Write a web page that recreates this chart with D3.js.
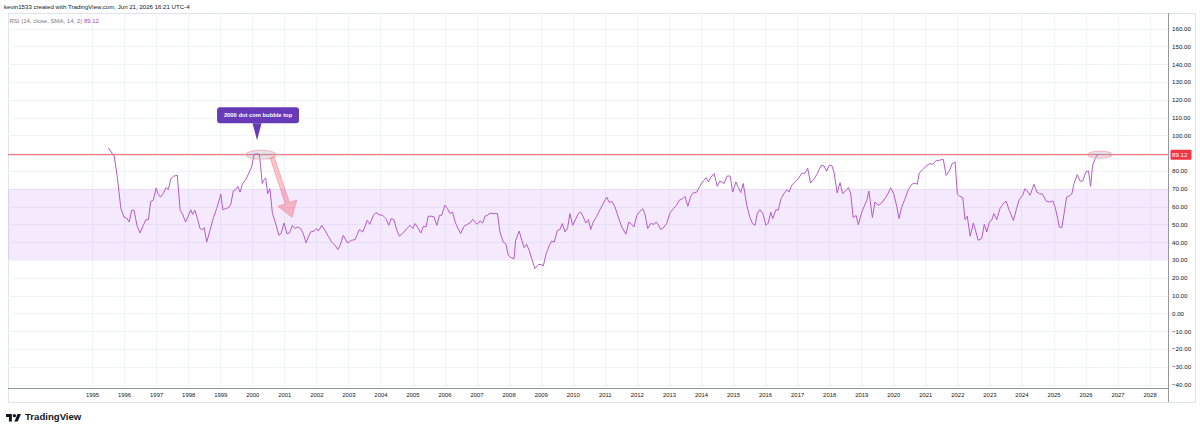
<!DOCTYPE html>
<html>
<head>
<meta charset="utf-8">
<script src="https://cdn.jsdelivr.net/npm/d3@7"></script>
<style>
	body { margin: 0; background: #fff; }
	svg { display: block; }
</style>
</head>
<body>
<script>

// monthly RSI(14) readings (decimal year, value)
const years = [
	1995.51, 1995.65, 1995.69, 1995.79, 1995.90,
	1996.00, 1996.08, 1996.16, 1996.24, 1996.31, 1996.41, 1996.50, 1996.60, 1996.68, 1996.76, 1996.83, 1996.91,
	1997.00, 1997.07, 1997.14, 1997.22, 1997.31, 1997.38, 1997.46, 1997.54, 1997.66, 1997.75, 1997.83, 1997.92,
	1998.00, 1998.08, 1998.14, 1998.21, 1998.29, 1998.37, 1998.45, 1998.50, 1998.58, 1998.68, 1998.79, 1998.89,
	1999.02, 1999.08, 1999.17, 1999.27, 1999.33, 1999.41, 1999.49, 1999.55, 1999.62, 1999.70, 1999.80, 1999.91, 1999.98,
	2000.06, 2000.14, 2000.22, 2000.26, 2000.31, 2000.37, 2000.42, 2000.48, 2000.55, 2000.63, 2000.71, 2000.83, 2000.90, 2000.99,
	2001.08, 2001.16, 2001.25, 2001.33, 2001.41, 2001.51, 2001.59, 2001.68, 2001.75, 2001.82, 2001.93,
	2002.01, 2002.06, 2002.17, 2002.27, 2002.37, 2002.48, 2002.58, 2002.67, 2002.74, 2002.84, 2002.97,
	2003.10, 2003.21, 2003.34, 2003.45, 2003.59, 2003.67, 2003.78, 2003.86, 2003.96,
	2004.07, 2004.17, 2004.26, 2004.33, 2004.42, 2004.51, 2004.59, 2004.69, 2004.82, 2004.92,
	2005.01, 2005.08, 2005.15, 2005.26, 2005.34, 2005.42, 2005.49, 2005.60, 2005.67, 2005.76, 2005.84, 2005.91,
	2006.01, 2006.09, 2006.17, 2006.25, 2006.33, 2006.40, 2006.50, 2006.61, 2006.71, 2006.79, 2006.88, 2006.95,
	2007.02, 2007.11, 2007.19, 2007.26, 2007.33, 2007.42, 2007.52, 2007.65, 2007.73, 2007.83, 2007.91, 2007.99,
	2008.07, 2008.17, 2008.22, 2008.33, 2008.41, 2008.48, 2008.56, 2008.64, 2008.72, 2008.82, 2008.93,
	2009.01, 2009.08, 2009.17, 2009.27, 2009.34, 2009.42, 2009.52, 2009.60, 2009.67, 2009.76, 2009.84, 2009.91,
	2010.00, 2010.10, 2010.17, 2010.25, 2010.33, 2010.41, 2010.49, 2010.56, 2010.64, 2010.75, 2010.85, 2010.95,
	2011.06, 2011.14, 2011.22, 2011.32, 2011.42, 2011.53, 2011.66, 2011.75, 2011.84, 2011.91,
	2012.00, 2012.08, 2012.18, 2012.25, 2012.34, 2012.43, 2012.54, 2012.60, 2012.67, 2012.74, 2012.85, 2012.93,
	2013.03, 2013.14, 2013.24, 2013.32, 2013.43, 2013.50, 2013.59, 2013.68, 2013.76, 2013.87, 2013.95,
	2014.05, 2014.16, 2014.23, 2014.30, 2014.41, 2014.51, 2014.59, 2014.72, 2014.82, 2014.91, 2014.99,
	2015.09, 2015.17, 2015.24, 2015.32, 2015.43, 2015.53, 2015.61, 2015.69, 2015.76, 2015.84, 2015.93,
	2016.03, 2016.10, 2016.18, 2016.24, 2016.34, 2016.41, 2016.50, 2016.59, 2016.68, 2016.75, 2016.83, 2016.93,
	2017.04, 2017.14, 2017.25, 2017.33, 2017.42, 2017.54, 2017.63, 2017.75, 2017.84, 2017.92,
	2018.00, 2018.08, 2018.15, 2018.25, 2018.34, 2018.42, 2018.53, 2018.60, 2018.67, 2018.75, 2018.84, 2018.91,
	2019.02, 2019.12, 2019.17, 2019.24, 2019.35, 2019.43, 2019.53, 2019.64, 2019.74, 2019.85, 2019.92,
	2020.02, 2020.11, 2020.18, 2020.26, 2020.37, 2020.47, 2020.58, 2020.68, 2020.75, 2020.81, 2020.92,
	2021.02, 2021.13, 2021.23, 2021.33, 2021.44, 2021.56, 2021.65, 2021.75, 2021.84, 2021.93,
	2022.00, 2022.08, 2022.17, 2022.24, 2022.31, 2022.40, 2022.50, 2022.58, 2022.65, 2022.76, 2022.84, 2022.92,
	2023.00, 2023.07, 2023.14, 2023.23, 2023.33, 2023.42, 2023.52, 2023.62, 2023.75, 2023.85, 2023.93,
	2024.04, 2024.11, 2024.18, 2024.27, 2024.39, 2024.48, 2024.56, 2024.66, 2024.77, 2024.87, 2024.98,
	2025.05, 2025.12, 2025.18, 2025.26, 2025.33, 2025.41, 2025.49, 2025.57, 2025.64, 2025.74, 2025.83, 2025.91,
	2026.01, 2026.09, 2026.16, 2026.22, 2026.30, 2026.37, 2026.43
];

const rsi = [
	93, 89.3, 88.8, 76.6, 59,
	54, 53.5, 51.3, 57.9, 57.9, 48.9, 45.1, 49.4, 52.6, 52.6, 62.9, 63.5,
	70.4, 66.7, 65.3, 67.2, 70.6, 69.5, 75.7, 77, 77.5, 57.9, 55.6, 51.3,
	54.5, 58.2, 55.6, 57.9, 53.2, 47.6, 47, 48.1, 40, 46.6, 53.8, 58.8,
	66.9, 58.2, 58.8, 59.4, 61.2, 68.7, 69.5, 71.3, 68.1, 72.9, 75.1, 79.4, 82.2,
	89.3, 89.7, 89.3, 83.1, 72.9, 75.1, 76, 67.2, 70, 56, 51.7, 43.8, 44.8, 50.7,
	44.8, 45.1, 49.4, 47.6, 48.5, 47.6, 44.8, 39.5, 42.9, 45.7, 46.2,
	47.6, 46.2, 49.4, 46.6, 43.3, 40, 38.2, 35.8, 38.2, 43.8, 39.5,
	41, 41.4, 47, 45.7, 52.2, 50, 55, 56.6, 55.4,
	55, 53.2, 49.4, 53.2, 52.6, 46.6, 43.3, 44.8, 47.6, 49.4,
	47.6, 50.4, 48.5, 45.1, 48.9, 48.5, 54.5, 54.5, 54.1, 49.4, 55, 55,
	60.7, 58.8, 56, 56.9, 51.3, 48.5, 44.8, 48.9, 50, 50.7, 52.8, 51.3,
	50, 51.9, 50.7, 54.5, 55, 56.3, 56, 56, 45.7, 40, 39.2, 32.6,
	31.3, 30.7, 41, 46.2, 41, 36.9, 38.8, 35.4, 30.7, 25.1, 27.4,
	27.4, 26.6, 33.5, 38.2, 40.6, 40, 46.6, 47, 50.4, 45.7, 48.1, 56,
	49.4, 53.2, 56, 56.9, 54.1, 50.7, 52.6, 47, 51.3, 54.5, 58.2, 61.6,
	65.3, 62.2, 62.9, 59.7, 54.1, 48.5, 44.4, 51.3, 50, 48.5,
	55, 56.9, 58.8, 56, 47.6, 50.4, 50, 51.3, 49.8, 47, 48.5, 50.4,
	56.3, 58.8, 60.7, 63.5, 64.4, 65.7, 60.1, 65.7, 67.6, 68.1, 70.9,
	73.8, 76.2, 73.8, 76.2, 78.5, 71.3, 74.3, 72.9, 77.1, 77.1, 68.1,
	73.8, 70.6, 67.8, 72.9, 60.7, 53.8, 50.4, 49.4, 56.3, 58.2, 56.3,
	49.4, 50.7, 56.9, 53.2, 58.2, 57.9, 64.4, 67.2, 69.5, 68.1, 71.9, 73.8,
	75.7, 78.5, 78.8, 81.6, 73.2, 75.7, 78.5, 83.1, 82.8, 79.8,
	83.1, 83.1, 79.4, 67.6, 73.4, 67.2, 69.1, 70.6, 67.6, 53.8, 55, 49.8,
	56.9, 61.2, 63.1, 68.7, 53.8, 62.5, 60.7, 62, 64.4, 67.6, 70.6,
	66.9, 60.1, 53.2, 59.4, 64.4, 69.5, 72.5, 73.2, 72.5, 78.8, 80.7,
	82.6, 84.1, 83.7, 85.6, 86, 86.5, 77.5, 80, 84.1, 85,
	66.9, 65.7, 65, 52.6, 54.5, 43.3, 50.7, 45.7, 41, 42, 50, 45.7,
	51.3, 52.2, 56, 52.6, 58.8, 61.2, 63.1, 57.9, 52.2, 58.8, 63.9,
	66.3, 70, 68.7, 66.3, 72.5, 68.1, 67.2, 66.9, 63.1, 62.5, 63.1,
	59.7, 54.1, 48.5, 48.1, 56, 65.3, 65.9, 66.9, 72.9, 77.9, 74.2, 74.3,
	79.4, 80, 71.3, 83.1, 86.9, 89.2, 89.12
];

const yTicks = d3.range(-40, 161, 10);
const xTickYears = d3.range(1995, 2029);
const lastValue = 89.12;
const band = [30, 70];

const headerText = "kevin1533 created with TradingView.com, Jun 21, 2026 16:21 UTC-4";
const legendText = "RSI (14, close, SMA, 14, 2)";
const calloutText = "2000 dot com bubble top";

// annotation anchors: [decimal year, value]
const calloutTip = [2000.15, 97.2];
const topMarks = [[2000.27, 89.12, 15, 4.5], [2026.45, 89.12, 12.5, 3.5]];
const arrowFrom = [2000.62, 87.6];
const arrowTo = [2001.24, 53.9];

if (years.length !== rsi.length) throw new Error("data length mismatch " + years.length + " " + rsi.length);

function toDate(t) {
	let yr = Math.floor(t);
	let s = new Date(yr, 0, 1), e = new Date(yr + 1, 0, 1);
	return new Date(+s + (t - yr) * (e - s));
}

let W = 1200, H = 433;
let pane = {left: 8, right: 1168, top: 13, bottom: 388, outerRight: 1195, axisBottom: 402};
let font = "'Liberation Sans', Arial, sans-serif";

let x = d3.scaleTime()
	.domain([new Date(1995, 0, 1), new Date(2028, 0, 1)])
	.range([92, 1149.6]);

let y = d3.scaleLinear()
	.domain([-40, 160])
	.range([384.5, 28.5]);

let px = t => x(toDate(t));

let svg = d3.select("body")
	.append("svg")
		.attr("width", W)
		.attr("height", H)
		.style("font-family", font);

svg.append("text")
	.attr("x", 4)
	.attr("y", 9)
	.attr("font-size", 6.1)
	.attr("fill", "#131722")
	.text(headerText);

// frame
svg.append("rect")
	.attr("x", pane.left + 0.5)
	.attr("y", pane.top + 0.5)
	.attr("width", pane.outerRight - pane.left)
	.attr("height", pane.axisBottom - pane.top)
	.attr("fill", "none")
	.attr("stroke", "#e0e3eb");

// grid
let grid = svg.append("g");

grid.selectAll("line.h")
	.data(yTicks)
	.enter()
		.append("line")
		.attr("x1", pane.left)
		.attr("x2", pane.right)
		.attr("y1", d => Math.round(y(d)) + 0.5)
		.attr("y2", d => Math.round(y(d)) + 0.5)
		.attr("stroke", "#f0f3fa");

grid.selectAll("line.v")
	.data(xTickYears)
	.enter()
		.append("line")
		.attr("x1", d => Math.round(x(new Date(d, 0, 1))) + 0.5)
		.attr("x2", d => Math.round(x(new Date(d, 0, 1))) + 0.5)
		.attr("y1", pane.top)
		.attr("y2", pane.bottom)
		.attr("stroke", "#f0f3fa");

// 30-70 band
svg.append("rect")
	.attr("x", pane.left)
	.attr("width", pane.right - pane.left)
	.attr("y", y(band[1]))
	.attr("height", y(band[0]) - y(band[1]))
	.attr("fill", "#9c27f0")
	.attr("fill-opacity", 0.1);

// red last-value line
svg.append("line")
	.attr("x1", pane.left)
	.attr("x2", pane.right)
	.attr("y1", y(lastValue))
	.attr("y2", y(lastValue))
	.attr("stroke", "#f23645")
	.attr("stroke-opacity", 0.65)
	.attr("stroke-width", 1.4);

// RSI line
let points = years.map((t, i) => ({t: t, v: rsi[i]}));

let line = d3.line()
	.x(d => px(d.t))
	.y(d => y(d.v));

svg.append("path")
	.datum(points)
	.attr("d", line)
	.attr("fill", "none")
	.attr("stroke", "#b55ccb")
	.attr("stroke-width", 1)
	.attr("stroke-linejoin", "round");

// annotations
let ann = svg.append("g");

ann.selectAll("ellipse")
	.data(topMarks)
	.enter()
		.append("ellipse")
		.attr("cx", d => px(d[0]))
		.attr("cy", d => y(d[1]))
		.attr("rx", d => d[2])
		.attr("ry", d => d[3])
		.attr("fill", "#9598a1")
		.attr("fill-opacity", 0.25)
		.attr("stroke", "#f7a1a8")
		.attr("stroke-width", 0.8);

// arrow
{
	let x0 = px(arrowFrom[0]), y0 = y(arrowFrom[1]);
	let x1 = px(arrowTo[0]), y1 = y(arrowTo[1]);
	let dx = x1 - x0, dy = y1 - y0;
	let len = Math.sqrt(dx * dx + dy * dy);
	let ux = dx / len, uy = dy / len;
	let nx = -uy, ny = ux;
	let shaft = 2.2, head = 10, headLen = 15;
	let bx = x1 - ux * headLen, by = y1 - uy * headLen;
	let pts = [
		[x0 + nx * shaft, y0 + ny * shaft],
		[bx + nx * shaft, by + ny * shaft],
		[bx + nx * head, by + ny * head],
		[x1, y1],
		[bx - nx * head, by - ny * head],
		[bx - nx * shaft, by - ny * shaft],
		[x0 - nx * shaft, y0 - ny * shaft]
	];
	ann.append("path")
		.attr("d", "M" + pts.map(p => p.join(",")).join("L") + "Z")
		.attr("fill", "#f23645")
		.attr("fill-opacity", 0.3)
		.attr("stroke", "#f23645")
		.attr("stroke-opacity", 0.35)
		.attr("stroke-width", 0.8);
}

// callout
{
	let tx = px(calloutTip[0]), ty = y(calloutTip[1]);
	let bw = 82, bh = 16, gap = 17;
	let g = ann.append("g");
	g.append("rect")
		.attr("x", tx + 1 - bw / 2)
		.attr("y", ty - gap - bh)
		.attr("width", bw)
		.attr("height", bh)
		.attr("rx", 3)
		.attr("fill", "#673ab7");
	g.append("path")
		.attr("d", "M" + (tx - 4.5) + "," + (ty - gap) + "L" + tx + "," + ty + "L" + (tx + 4.5) + "," + (ty - gap) + "Z")
		.attr("fill", "#673ab7");
	g.append("text")
		.attr("x", tx + 1)
		.attr("y", ty - gap - bh / 2)
		.attr("dy", "0.35em")
		.attr("text-anchor", "middle")
		.attr("font-size", 5.8)
		.attr("font-weight", "bold")
		.attr("fill", "#fff")
		.text(calloutText);
}

// axes
let yAxis = d3.axisRight(y)
	.tickValues(yTicks)
	.tickSize(0)
	.tickPadding(4)
	.tickFormat(d3.format(".2f"));

let ya = svg.append("g")
	.attr("transform", "translate(" + pane.right + ",0)")
	.call(yAxis);
ya.select(".domain").remove();
ya.selectAll("text")
	.attr("font-size", 6.2)
	.attr("font-family", font)
	.attr("fill", "#131722");

let xAxis = d3.axisBottom(x)
	.tickValues(xTickYears.map(d => new Date(d, 0, 1)))
	.tickSize(0)
	.tickPadding(4.5)
	.tickFormat(d3.timeFormat("%Y"));

let xa = svg.append("g")
	.attr("transform", "translate(0," + pane.bottom + ")")
	.call(xAxis);
xa.select(".domain").remove();
xa.selectAll("text")
	.attr("font-size", 5.9)
	.attr("font-family", font)
	.attr("fill", "#131722");

// axis separators
svg.append("line")
	.attr("x1", pane.right + 0.5).attr("x2", pane.right + 0.5)
	.attr("y1", pane.top).attr("y2", pane.axisBottom)
	.attr("stroke", "#9598a1");
svg.append("line")
	.attr("x1", pane.left).attr("x2", pane.right)
	.attr("y1", pane.bottom + 0.5).attr("y2", pane.bottom + 0.5)
	.attr("stroke", "#9598a1");

// last value label
let lg = svg.append("g");
lg.append("rect")
	.attr("x", pane.right + 2.5)
	.attr("y", y(lastValue) - 5)
	.attr("width", 21)
	.attr("height", 10)
	.attr("rx", 1)
	.attr("fill", "#f23645");
lg.append("text")
	.attr("x", pane.right + 4)
	.attr("y", y(lastValue))
	.attr("dy", "0.35em")
	.attr("font-size", 6.2)
	.attr("fill", "#fff")
	.text(d3.format(".2f")(lastValue));

// legend
let legend = svg.append("text")
	.attr("x", 9.5)
	.attr("y", 22.5)
	.attr("font-size", 6);
legend.append("tspan").attr("fill", "#787b86").text(legendText + "  ");
legend.append("tspan").attr("fill", "#ab47bc").text(d3.format(".2f")(lastValue));

// TradingView logo
let logo = svg.append("g").attr("transform", "translate(6,412.3) scale(0.42)");
logo.append("path").attr("d", "M14 22H7V11H0V4h14v18z").attr("fill", "#131722");
logo.append("circle").attr("cx", 20).attr("cy", 8).attr("r", 4).attr("fill", "#131722");
logo.append("path").attr("d", "M28 22h-8l7.5-18h8L28 22z").attr("fill", "#131722");

svg.append("text")
	.attr("x", 25)
	.attr("y", 420)
	.attr("font-size", 9.6)
	.attr("font-weight", "bold")
	.attr("fill", "#131722")
	.text("TradingView");

</script>
</body>
</html>
